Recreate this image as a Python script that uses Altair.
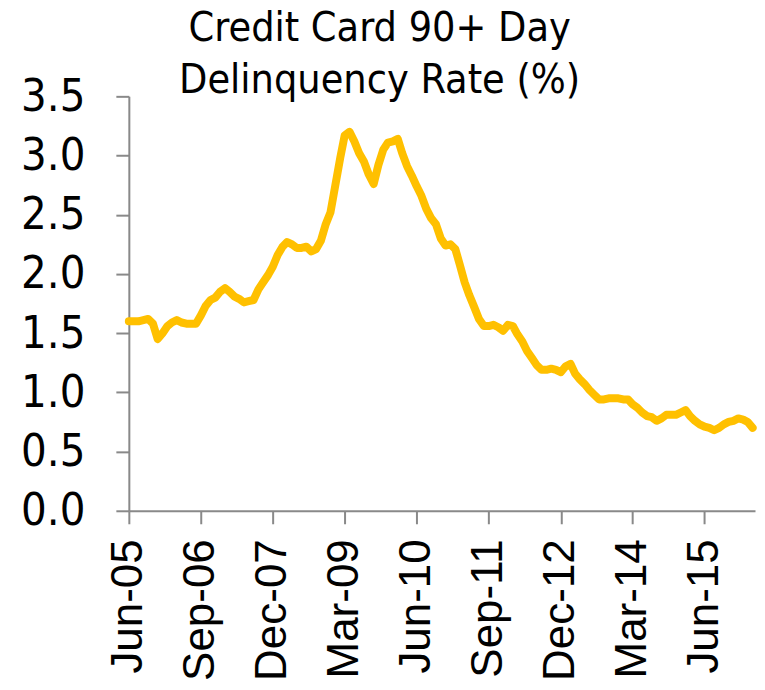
import altair as alt
import pandas as pd

# Monthly credit card 90+ day delinquency rate (%), Jun-05 .. Apr-16
start_month = "2005-06-01"
rate = [
    1.60, 1.60, 1.60, 1.61, 1.62, 1.58, 1.45, 1.50, 1.56, 1.59,
    1.61, 1.59, 1.58, 1.58, 1.58, 1.65, 1.73, 1.78, 1.80, 1.85,
    1.88, 1.85, 1.81, 1.79, 1.76, 1.77, 1.78, 1.87, 1.93, 1.99,
    2.06, 2.16, 2.23, 2.27, 2.25, 2.22, 2.22, 2.23, 2.19, 2.21,
    2.28, 2.42, 2.52, 2.75, 2.98, 3.17, 3.20, 3.12, 3.02, 2.95,
    2.84, 2.76, 2.92, 3.05, 3.11, 3.12, 3.14, 3.02, 2.91, 2.83,
    2.74, 2.66, 2.55, 2.47, 2.42, 2.30, 2.24, 2.25, 2.21, 2.08,
    1.93, 1.82, 1.72, 1.62, 1.56, 1.56, 1.57, 1.55, 1.52, 1.57,
    1.56, 1.49, 1.43, 1.35, 1.29, 1.23, 1.19, 1.19, 1.20, 1.19,
    1.17, 1.22, 1.24, 1.16, 1.11, 1.07, 1.02, 0.98, 0.94, 0.94,
    0.95, 0.95, 0.95, 0.94, 0.94, 0.90, 0.87, 0.83, 0.80, 0.79,
    0.76, 0.78, 0.81, 0.81, 0.81, 0.83, 0.85, 0.80, 0.76, 0.73,
    0.71, 0.70, 0.68, 0.70, 0.73, 0.75, 0.76, 0.78, 0.77, 0.75,
    0.70,
]

# x-axis tick months (year, month) -> labels Jun-05, Sep-06, ...
tick_months = [(2005, 6), (2006, 9), (2007, 12), (2009, 3), (2010, 6),
               (2011, 9), (2012, 12), (2014, 3), (2015, 6)]
y_ticks = [0.0, 0.5, 1.0, 1.5, 2.0, 2.5, 3.0, 3.5]

months = pd.date_range(start_month, periods=len(rate), freq="MS")
df = pd.DataFrame({"month": months, "rate": rate})

tick_values = [alt.DateTime(year=y, month=m, date=1) for y, m in tick_months]

axis_grey = "#898989"

chart = alt.Chart(df).mark_line(
    color="#FFC000", strokeWidth=8, strokeJoin="round", strokeCap="round"
).encode(
    x=alt.X(
        "month:T",
        scale=alt.Scale(domain=[alt.DateTime(year=2005, month=6, date=1),
                                alt.DateTime(year=2016, month=4, date=16)]),
        axis=alt.Axis(
            values=tick_values, format="%b-%y", labelAngle=-90, title=None,
            labelFont="Liberation Sans", labelFontSize=44, labelColor="black",
            labelPadding=15, tickSize=13, tickWidth=2, tickColor=axis_grey,
            domainColor=axis_grey, domainWidth=2, grid=False, labelOverlap=False,
        ),
    ),
    y=alt.Y(
        "rate:Q",
        scale=alt.Scale(domain=[0, 3.5], nice=False),
        axis=alt.Axis(
            values=y_ticks, format=".1f", title=None,
            labelFont="DejaVu Sans Condensed", labelFontSize=45, labelColor="black",
            labelPadding=31, tickSize=13, tickWidth=2, tickColor=axis_grey,
            domainColor=axis_grey, domainWidth=2, grid=False, labelOverlap=False,
        ),
    ),
).properties(
    width=627,
    height=415,
    title=alt.TitleParams(
        text=["Credit Card 90+ Day", "Delinquency Rate (%)"],
        font="DejaVu Sans Condensed", fontSize=41, fontWeight="normal",
        lineHeight=52, color="black", anchor="middle", frame="bounds",
        offset=-28, dx=-9,
    ),
    padding={"left": 12, "top": 0, "right": 0, "bottom": 0},
).configure_view(stroke=None)

chart.save("out.html", embed_options={"renderer": "svg", "actions": False})
